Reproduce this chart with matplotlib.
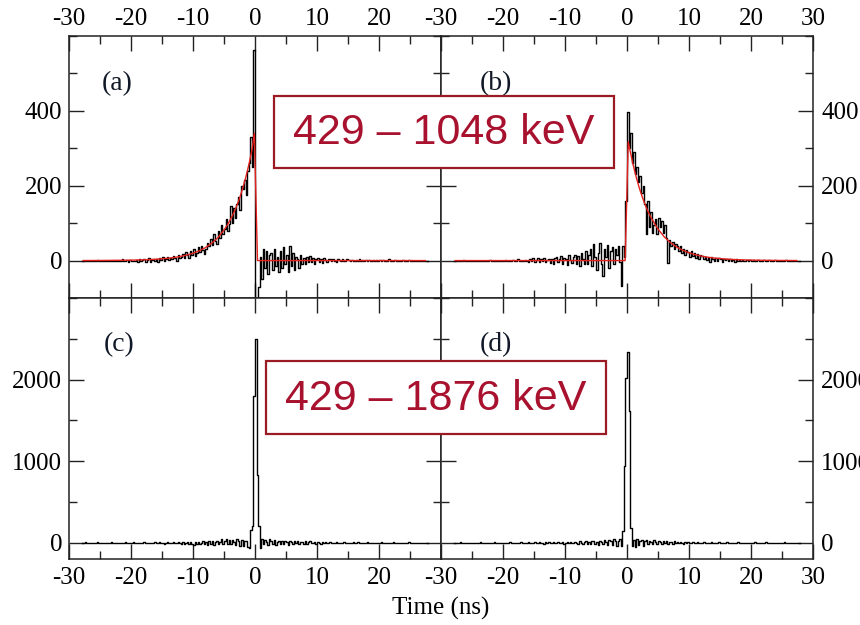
import matplotlib
matplotlib.use("Agg")
import matplotlib.pyplot as plt
from matplotlib.patches import Rectangle
from matplotlib.ticker import MultipleLocator
import numpy as np

plt.rcParams['font.family'] = 'Liberation Serif'
plt.rcParams['axes.unicode_minus'] = False

# time channels: 0.25 ns bins from -28 to 28 ns (one row below = 4 ns)
bin_width = 0.25
t = np.arange(224) * bin_width - 28 + bin_width / 2

# (a) 429-1048 keV, start/stop order 1
counts_a = [0, 0, 0, 0, 0, 0, 0, 0, 0, 0, 2, 0, 0, 0, 0, 0,
            0, 0, 0, 0, 0, 0, 0, 0, 0, -2, 3, 0, 0, 1, -3, 2,
            0, 0, 0, 2, -4, 3, 0, 1, 4, -5, 2, 6, -3, 2, 5, 0,
            4, -3, 7, 2, 9, -2, 5, 10, 1, 8, 3, 12, 6, -1, 14, 7,
            10, 18, 6, 22, 14, 8, 25, 16, 30, 12, 20, 35, 24, 40, 28, 18,
            30, 48, 38, 58, 42, 70, 52, 45, 78, 60, 95, 70, 85, 110, 80, 98,
            145, 100, 140, 115, 150, 170, 135, 200, 190, 215, 175, 240, 260, 330, 250, 563,
            -120, -120, -70, 10, -50, 30, -20, 25, -35, 15, 20, -25, 30, -15, 10, -30,
            25, -20, 35, -10, 15, -30, 40, -15, 20, -25, 10, 5, -20, 15, -10, 8,
            -8, 10, -5, 12, -3, 6, -10, 5, 8, -4, 3, -6, 7, 2, -3, 4,
            3, -2, 5, 0, -3, 4, 2, -1, 3, 0, -2, 4, 1, 0, 2, -2,
            0, 2, -1, 3, 0, 1, -2, 2, 0, 1, 0, -1, 2, 0, 1, 0,
            2, 0, 1, -2, 0, 0, 3, 0, -1, 0, 2, 0, 0, -2, 0, 1,
            0, 0, 0, 2, 0, 0, -1, 0, 0, 0, 0, 0, 0, 0, 0, 0]

# (b) 429-1048 keV, reversed order
counts_b = [0, 0, 0, 0, 0, 0, 2, 0, 0, 0, 0, 0, 0, 0, 0, 0,
            0, 0, 0, -2, 0, 0, 0, 2, 0, 0, 0, 0, -1, 0, 0, 0,
            0, 2, 0, 0, -2, 0, 1, 0, 0, 3, 0, -2, 0, 0, 2, 0,
            -4, 5, 0, 6, -3, 2, 7, -5, 3, 0, 6, -4, 2, 5, -6, 4,
            -8, 6, 10, -5, 3, 12, -10, 8, 4, -12, 14, 2, -6, 10, 16, -8,
            12, -14, 20, 5, -10, 25, -8, 15, 30, -15, 45, 10, -25, 20, 48, -10,
            -40, 30, 10, 42, -20, 25, 35, -10, 30, 15, 40, -5, -68, 40, 10, 160,
            398, 300, 340, 260, 290, 230, 250, 210, 225, 180, 200, 150, 70, 160, 90, 130,
            75, 95, 110, 70, 115, 90, 105, 75, 95, 60, -6, 55, 40, 50, 30, 45,
            38, 25, 40, 20, 30, 15, 28, 22, 10, 25, 12, 20, 8, 18, 5, 15,
            12, 4, 10, 2, 8, -3, 9, 5, 0, 6, -2, 7, 3, -4, 5, 1,
            3, -2, 4, 0, 2, -3, 3, 0, 1, -2, 2, 0, -1, 2, 0, 1,
            0, 2, -1, 0, 1, 0, -2, 0, 2, 0, 0, 1, -1, 0, 0, 2,
            0, 0, 0, -2, 0, 0, 1, 0, 0, 0, 0, -2, 0, 0, 0, 0]

# (c) 429-1876 keV, order 1
counts_c = [0, 0, 5, 0, 0, -5, 0, 0, 0, 0, 5, 0, 0, 0, 0, 0,
            0, 0, 0, 5, 0, 0, -5, 0, 0, 0, 0, 0, 5, 0, 0, 0,
            0, 5, 0, 0, 0, -5, 0, 0, 5, 0, 0, 0, -5, 0, 0, 5,
            0, -5, 5, 0, 0, -10, 0, 5, 0, -5, 0, 10, 0, -5, 5, 0,
            -10, 5, -15, 0, 10, -20, 5, -10, -25, 10, -15, 5, -20, 0, 15, -10,
            10, -25, 20, -10, 15, -30, 5, 25, -15, 10, 40, -20, 15, 45, -10, 30,
            -20, 35, 10, -30, 40, 20, -40, 30, -35, 25, 15, -50, -65, 150, 200, 1800,
            2500, 830, 200, -70, 40, -20, 30, 10, -30, 45, 20, -15, 30, -25, 10, 20,
            -10, 25, -20, 15, 5, -25, 20, 10, -15, 25, -5, 15, -20, 10, 5, -10,
            15, -10, 5, 20, -5, 0, 10, -15, 5, 0, -10, 5, 0, 10, -5, 0,
            5, 0, -5, 0, 5, 0, 0, -5, 0, 5, 0, 0, -5, 0, 0, 5,
            0, 0, 5, 0, -5, 0, 0, 0, 5, 0, 0, -5, 0, 0, 0, 0,
            0, 5, 0, 0, 0, -5, 0, 0, 0, 5, 0, 0, 0, 0, -5, 0,
            0, 0, 0, 5, 0, 0, 0, 0, 0, 0, 0, 0, 0, 0, 0, 0]

# (d) 429-1876 keV, reversed order
counts_d = [0, 0, 0, 0, 5, 0, 0, 0, 0, -5, 0, 0, 0, 0, 0, 0,
            0, 5, 0, 0, 0, 0, -5, 0, 0, 0, 5, 0, 0, 0, 0, 0,
            0, 0, -5, 0, 5, 0, 0, 0, -5, 0, 0, 5, 0, 0, -5, 0,
            5, 0, -5, 0, 10, 0, -5, 5, 0, 0, -10, 5, 0, 5, 0, -5,
            5, -5, 0, 10, -5, 0, 5, -10, 0, 5, -5, 10, 0, -5, 5, 0,
            -10, 15, 0, -15, 10, 20, -10, 5, -20, 15, 25, -15, 10, -25, 20, 5,
            -20, 30, 10, -25, 35, 15, -30, 40, 20, -35, 25, 50, -40, 140, 940, 2020,
            2340, 1610, 180, -40, 30, -50, 40, -30, 20, 35, -40, 15, 30, -20, 25, 10,
            -15, 30, 10, -20, 25, 5, -10, 20, -5, 15, -15, 10, 5, -10, 15, 0,
            10, -5, 5, 0, -10, 5, 0, 10, -5, 0, 5, -5, 0, 5, 0, -5,
            0, 5, 0, -5, 0, 0, 5, 0, -5, 0, 0, 5, 0, 0, -5, 0,
            5, 0, 0, 0, -5, 0, 0, 5, 0, 0, 0, 0, -5, 0, 0, 0,
            0, 0, 5, 0, 0, 0, -5, 0, 0, 5, 0, 0, 0, 0, 0, -5,
            0, 0, 0, 0, 0, 5, 0, 0, 0, 0, 0, 0, 0, 0, 0, 0]

# fitted curves
fit_a_t = [-27.7, -25, -20, -18, -16, -14, -13, -12, -11, -10, -9, -8, -7, -6, -5,
           -4.5, -4, -3.5, -3, -2.5, -2, -1.5, -1, -0.5, -0.1, 0.4, 27.5]
fit_a_y = [0.1, 0.3, 1.1, 2.0, 3.5, 6.2, 8.3, 11, 14.7, 19.5, 26, 34.6, 46, 61, 81.5,
           94, 108.5, 125, 144, 166, 192, 221.5, 255.5, 295, 340, 0, 0]
fit_b_t = [-27.7, -0.3, 0.2, 0.5, 1, 1.5, 2, 2.5, 3, 3.5, 4, 5, 6, 7, 8, 9, 10,
           11, 12, 13, 14, 16, 18, 20, 23, 27.4]
fit_b_y = [0, 0, 318, 293, 255, 222, 193, 168, 146, 127, 111, 84, 63.5, 48, 36.4, 27.6, 20.9,
           15.8, 12, 9.1, 6.9, 3.9, 2.3, 1.3, 0.5, 0.1]

energy_labels = ['429 – 1048 keV', '429 – 1876 keV']
xticks = [-30, -20, -10, 0, 10, 20, 30]

W, H = 860, 625
fig = plt.figure(figsize=(8.6, 6.25), dpi=100)

def px_axes(x0, y0, x1, y1):
    return fig.add_axes([x0 / W, 1 - y1 / H, (x1 - x0) / W, (y1 - y0) / H])

ax_a = px_axes(69, 36, 441, 298)
ax_b = px_axes(441, 36, 813, 298)
ax_c = px_axes(69, 298, 441, 559)
ax_d = px_axes(441, 298, 813, 559)

for ax, y in [(ax_a, counts_a), (ax_b, counts_b), (ax_c, counts_c), (ax_d, counts_d)]:
    ax.step(t, y, where='mid', color='black', lw=1.0, zorder=2)
    ax.set_xlim(-30, 30)
    ax.xaxis.set_minor_locator(MultipleLocator(5))
    ax.tick_params(which='both', direction='in', top=True, bottom=True,
                   left=True, right=True, labelsize=18, width=1.0, color='#222222')
    ax.tick_params(which='major', length=11)
    ax.tick_params(which='minor', length=5.5)
    for s in ax.spines.values():
        s.set_linewidth(1.1)
        s.set_color('#222222')

ax_a.plot(fit_a_t, fit_a_y, color='#e3221e', lw=1.0, zorder=3)
ax_b.plot(fit_b_t, fit_b_y, color='#e3221e', lw=1.0, zorder=3)

for ax in (ax_a, ax_b):
    ax.set_ylim(-100, 600)
    ax.set_yticks([0, 200, 400])
    ax.set_yticklabels(['0', '200', '400'])
    ax.yaxis.set_minor_locator(MultipleLocator(100))
    ax.tick_params(axis='x', labeltop=True, labelbottom=False, pad=4)
for ax in (ax_c, ax_d):
    ax.set_ylim(-200, 3000)
    ax.set_yticks([0, 1000, 2000])
    ax.set_yticklabels(['0', '1000', '2000'])
    ax.yaxis.set_minor_locator(MultipleLocator(500))
    ax.tick_params(axis='x', labeltop=False, labelbottom=True, pad=6)

for ax in (ax_a, ax_c):
    ax.set_xticks(xticks)
    ax.set_xticklabels([str(v) for v in xticks[:-1]] + [''])
    ax.tick_params(axis='y', labelleft=True, labelright=False, pad=5)
for ax in (ax_b, ax_d):
    ax.set_xticks(xticks)
    ax.set_xticklabels([str(v) for v in xticks])
    ax.tick_params(axis='y', labelleft=False, labelright=True, pad=6)

ax_a.text(-24.7, 472, '(a)', fontsize=20, va='center', color='#111827')
ax_b.text(-23.7, 472, '(b)', fontsize=20, va='center', color='#111827')
ax_c.text(-24.4, 2430, '(c)', fontsize=20, va='center', color='#111827')
ax_d.text(-23.7, 2430, '(d)', fontsize=20, va='center', color='#111827')

fig.text(441 / W, 1 - 608 / H, 'Time (ns)', ha='center', va='center', fontsize=18)

# energy window boxes
for (x0, y0, x1, y1), txt in zip([(274, 96, 614, 168), (266, 361, 606, 434)], energy_labels):
    fig.add_artist(Rectangle((x0 / W, 1 - y1 / H), (x1 - x0) / W, (y1 - y0) / H,
                             transform=fig.transFigure, facecolor='white',
                             edgecolor='#9b1b24', lw=1.6, zorder=10))
    fig.text((x0 + x1) / 2 / W, 1 - ((y0 + y1) / 2 + 1) / H, txt, ha='center', va='center',
             fontsize=31, color='#a8122e', family='Liberation Sans', zorder=11)

fig.savefig('out.png', dpi=100)
